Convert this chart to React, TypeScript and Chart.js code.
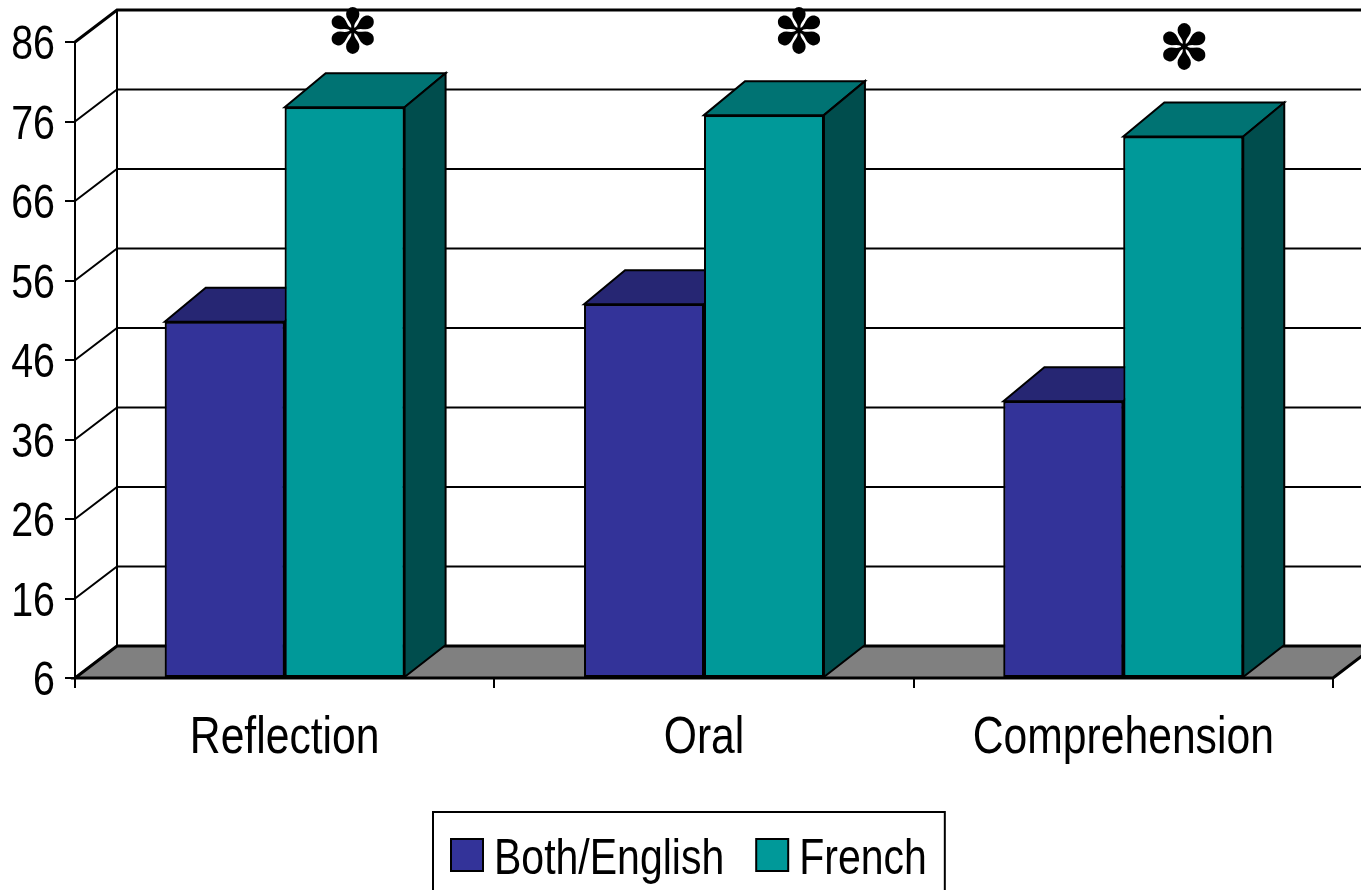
import { useEffect, useRef } from 'react';
import { Chart, registerables } from 'chart.js';

Chart.register(...registerables);

const categories = ['Reflection', 'Oral', 'Comprehension'];
const seriesLabels = ['Both/English', 'French'];
const bothEnglish = [50.8, 53.0, 40.8];
const french = [77.8, 76.8, 74.1];
const yMin = 6;
const yMax = 86;
const yStep = 10;
const significanceMarks = ['✽', '✽', '✽'];

// annotation placement (pixel x shift from bar centre, y in value units)
const markShiftX = [8, 35, 1];
const markValueY = [86.6, 86.6, 84.6];

const FONT = '"Liberation Sans", Arial, sans-serif';
const NARROW = 0.82;
const FRONT = ['#333399', '#009999'];
const TOP = ['#262673', '#007373'];
const SIDE = ['#1a1a4d', '#004d4d'];
const DX = 41;
const DY = 34;
const FDX = 42;
const FDY = 32;

function narrowText(ctx: CanvasRenderingContext2D, text: string, x: number, y: number, size: number, align: CanvasTextAlign) {
  ctx.save();
  ctx.font = `${size}px ${FONT}`;
  ctx.fillStyle = '#000';
  ctx.textAlign = align;
  ctx.textBaseline = 'alphabetic';
  ctx.translate(x, y);
  ctx.scale(NARROW, 1);
  ctx.fillText(text, 0, 0);
  ctx.restore();
}

function narrowWidth(ctx: CanvasRenderingContext2D, text: string, size: number) {
  ctx.save();
  ctx.font = `${size}px ${FONT}`;
  const w = ctx.measureText(text).width * NARROW;
  ctx.restore();
  return w;
}

const walls = {
  id: 'walls',
  beforeDatasetsDraw(chart: any) {
    const { ctx, chartArea } = chart;
    const { left, right, bottom } = chartArea;
    const ys = chart.scales.y;
    ctx.save();
    ctx.strokeStyle = '#000';
    ctx.lineCap = 'butt';
    const ticks = ys.ticks.map((t: any) => t.value);
    const topPx = ys.getPixelForValue(yMax);
    ctx.lineWidth = 2;
    ctx.beginPath();
    ctx.moveTo(left + FDX, bottom - FDY);
    ctx.lineTo(left + FDX, topPx - FDY);
    ctx.stroke();
    ticks.forEach((v: number) => {
      const p = ys.getPixelForValue(v);
      ctx.lineWidth = v === yMax ? 3 : 2;
      ctx.beginPath();
      ctx.moveTo(left, p);
      ctx.lineTo(left + FDX, p - FDY);
      ctx.lineTo(right + FDX + 40, p - FDY);
      ctx.stroke();
    });
    ctx.fillStyle = '#808080';
    ctx.lineWidth = 3;
    ctx.beginPath();
    ctx.moveTo(left, bottom);
    ctx.lineTo(left + FDX, bottom - FDY);
    ctx.lineTo(right + FDX, bottom - FDY);
    ctx.lineTo(right, bottom);
    ctx.closePath();
    ctx.fill();
    ctx.stroke();
    ctx.restore();
  },
};

const bars3d = {
  id: 'bars3d',
  afterDatasetsDraw(chart: any) {
    const { ctx } = chart;
    ctx.save();
    ctx.strokeStyle = '#000';
    ctx.lineWidth = 2;
    ctx.lineJoin = 'miter';
    for (let ci = 0; ci < categories.length; ci++) {
      for (let di = 0; di < chart.data.datasets.length; di++) {
        const meta = chart.getDatasetMeta(di);
        const el: any = meta.data[ci];
        if (!el) continue;
        el.draw(ctx, chart.chartArea);
        const l = el.x - el.width / 2;
        const r = el.x + el.width / 2;
        const t = el.y;
        const b = el.base;
        ctx.fillStyle = TOP[di];
        ctx.beginPath();
        ctx.moveTo(l, t);
        ctx.lineTo(l + DX, t - DY);
        ctx.lineTo(r + DX, t - DY);
        ctx.lineTo(r, t);
        ctx.closePath();
        ctx.fill();
        ctx.stroke();
        ctx.fillStyle = SIDE[di];
        ctx.beginPath();
        ctx.moveTo(r, t);
        ctx.lineTo(r + DX, t - DY);
        ctx.lineTo(r + DX, b - FDY);
        ctx.lineTo(r, b);
        ctx.closePath();
        ctx.fill();
        ctx.stroke();
      }
    }
    const ys = chart.scales.y;
    const fm = chart.getDatasetMeta(1);
    ctx.fillStyle = '#000';
    ctx.font = `62px "DejaVu Sans", sans-serif`;
    ctx.textAlign = 'center';
    ctx.textBaseline = 'middle';
    significanceMarks.forEach((m, i) => {
      const el: any = fm.data[i];
      ctx.fillText(m, el.x + markShiftX[i], ys.getPixelForValue(markValueY[i]));
    });
    ctx.restore();
  },
  afterDraw(chart: any) {
    const { ctx, chartArea } = chart;
    const xs = chart.scales.x;
    const ys = chart.scales.y;
    // y tick labels
    const ySize = 48;
    ys.ticks.forEach((t: any) => {
      const p = ys.getPixelForValue(t.value);
      narrowText(ctx, String(t.label), ys.right - 20, p + ySize * 0.358, ySize, 'right');
    });
    // x category labels
    const xSize = 52;
    xs.ticks.forEach((t: any, i: number) => {
      const p = xs.getPixelForTick(i);
      narrowText(ctx, String(xs.getLabelForValue(t.value)), p, chartArea.bottom + 75, xSize, 'center');
    });
    // legend
    ctx.save();
    const lSize = 50;
    const box = 32;
    const gap = 11;
    const spacing = 32;
    const pad = 18;
    const widths = seriesLabels.map((s) => narrowWidth(ctx, s, lSize));
    const total = pad * 2 + widths.reduce((a, w) => a + box + gap + w, 0) + spacing * (widths.length - 1);
    const x0 = 433;
    const top = 812;
    ctx.strokeStyle = '#000';
    ctx.lineWidth = 2;
    ctx.strokeRect(x0, top, total, 120);
    let x = x0 + pad;
    seriesLabels.forEach((s, i) => {
      ctx.fillStyle = FRONT[i];
      ctx.fillRect(x, 839, box, box);
      ctx.lineWidth = 2;
      ctx.strokeRect(x, 839, box, box);
      x += box + gap;
      narrowText(ctx, s, x, 874, lSize, 'left');
      x += widths[i] + spacing;
    });
    ctx.restore();
  },
};

export default function App() {
  const ref = useRef<HTMLCanvasElement>(null);
  useEffect(() => {
    if (!ref.current) return;
    const chart = new Chart(ref.current, {
      type: 'bar',
      data: {
        labels: categories,
        datasets: [
          { label: seriesLabels[0], data: bothEnglish, base: yMin, backgroundColor: FRONT[0], borderColor: '#000', borderWidth: 2, borderSkipped: false },
          { label: seriesLabels[1], data: french, base: yMin, backgroundColor: FRONT[1], borderColor: '#000', borderWidth: 2, borderSkipped: false },
        ] as any,
      },
      options: {
        responsive: false,
        animation: false,
        layout: { padding: { top: 42, right: 28, left: 0, bottom: 0 } },
        plugins: { legend: { display: false }, tooltip: { enabled: false } },
        datasets: { bar: { barPercentage: 1, categoryPercentage: 0.572 } },
        scales: {
          x: {
            afterFit: (s: any) => { s.height = 212; },
            grid: { drawOnChartArea: false, drawTicks: true, tickLength: 10, color: '#000', lineWidth: 2, offset: true },
            border: { display: true, color: '#000', width: 2 },
            ticks: { display: false },
          },
          y: {
            min: yMin,
            max: yMax,
            afterFit: (s: any) => { s.width = 75; },
            grid: { drawOnChartArea: false, drawTicks: true, tickLength: 10, color: '#000', lineWidth: 2 },
            border: { display: true, color: '#000', width: 2 },
            ticks: { stepSize: yStep, display: false },
          },
        },
      },
      plugins: [walls, bars3d],
    });
    return () => chart.destroy();
  }, []);
  return (
    <canvas
      ref={ref}
      width={1361}
      height={890}
      style={{ position: 'absolute', left: 0, top: 0, display: 'block' }}
    />
  );
}
